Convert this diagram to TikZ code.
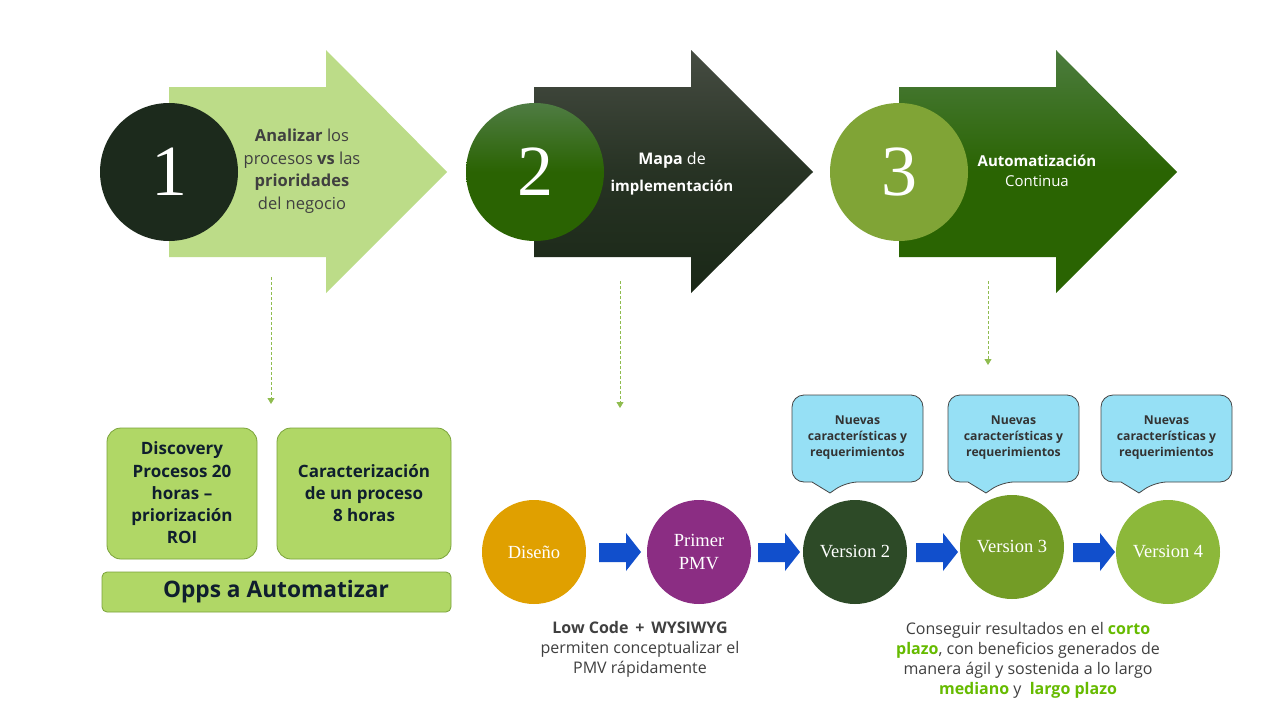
\documentclass[tikz,border=0pt]{standalone}
\usepackage{fontspec}
\setmainfont{Open Sans}
\newfontfamily\serifnum{Liberation Serif}
\usetikzlibrary{arrows.meta}
\definecolor{arrowA}{HTML}{BCDC88}
\definecolor{circA}{HTML}{1C2A1C}
\definecolor{arrowBtop}{HTML}{464C42}
\definecolor{arrowBbot}{HTML}{1A2817}
\definecolor{circBtop}{HTML}{4F7C43}
\definecolor{circBbot}{HTML}{2A6302}
\definecolor{arrowCtop}{HTML}{4C7C3E}
\definecolor{arrowCbot}{HTML}{2A6402}
\definecolor{circC}{HTML}{80A436}
\definecolor{dashgreen}{HTML}{8FBC4F}
\definecolor{boxfill}{HTML}{B0D766}
\definecolor{boxline}{HTML}{7AA33A}
\definecolor{navy}{HTML}{0F1E2E}
\definecolor{txtgrey}{HTML}{404040}
\definecolor{diseno}{HTML}{E0A000}
\definecolor{pmv}{HTML}{8B2D83}
\definecolor{vtwo}{HTML}{2D4A27}
\definecolor{vthree}{HTML}{739C26}
\definecolor{vfour}{HTML}{8CB83A}
\definecolor{blueArr}{HTML}{114FCC}
\definecolor{callfill}{HTML}{96E0F5}
\definecolor{callline}{HTML}{454545}
\definecolor{accent}{HTML}{66BB00}
\tikzset{
  bignum/.style={circle, minimum size=138pt, inner sep=0pt, text=white, font=\serifnum\fontsize{72}{72}\selectfont},
  dashlink/.style={draw=dashgreen, dash pattern=on 3pt off 2pt, line width=0.8pt, -{Triangle[length=6pt,width=7pt,fill=dashgreen]}},
  greenbox/.style={draw=boxline, fill=boxfill, rounded corners=14pt, line width=0.8pt},
  boxtext/.style={align=center, text=navy, font=\bfseries\fontsize{17}{22.3}\selectfont},
  stepcirc/.style={circle, minimum size=104pt, inner sep=0pt, align=center, text=white, font=\serifnum\fontsize{18.5}{23}\selectfont},
  bluearrow/.style={fill=blueArr},
  callout/.style={draw=callline, fill=callfill, line width=0.8pt, rounded corners=12pt},
  calltext/.style={align=center, text=txtgrey!80!black, font=\bfseries\fontsize{12.2}{16}\selectfont},
}
\begin{document}
\begin{tikzpicture}[x=1pt,y=-1pt]
\useasboundingbox[fill=white] (0,0) rectangle (1280,720);

% ---- big arrows ----
\fill[arrowA] (169,87) -- (326,87) -- (326,50) -- (447,172) -- (326,293) -- (326,257) -- (169,257) -- cycle;
\shade[top color=arrowBtop, bottom color=arrowBbot, middle color=arrowBbot!70!arrowBtop] (534,87) -- (691,87) -- (691,50) -- (813,172) -- (691,293) -- (691,257) -- (534,257) -- cycle;
\shade[top color=arrowCtop, bottom color=arrowCbot, middle color=arrowCbot] (899,87) -- (1056,87) -- (1056,50) -- (1177,172) -- (1056,293) -- (1056,257) -- (899,257) -- cycle;

\node[bignum, fill=circA] (c1) at (169,172) {1};
\node[bignum, top color=circBtop, bottom color=circBbot, middle color=circBbot] (c2) at (535,172) {2};
\node[bignum, fill=circC] (c3) at (899,172) {3};

\node[align=center, text=txtgrey, font=\fontsize{16.5}{22.5}\selectfont] (t1) at (302,171)
  {\textbf{Analizar} los\\procesos \textbf{vs} las\\\textbf{prioridades}\\del negocio};
\node[align=center, text=white, anchor=base] (t2a) at (672,164) {\fontsize{16}{18}\selectfont\textbf{Mapa} de};
\node[align=center, text=white, anchor=base] (t2b) at (672,191) {\fontsize{15}{16}\selectfont\textbf{implementación}};
\node[align=center, text=white, font=\fontsize{15}{20}\selectfont] (t3) at (1037,171)
  {\textbf{Automatización}\\Continua};

% ---- dashed connectors ----
\coordinate (d1s) at (271,277); \coordinate (d1e) at (271,404);
\coordinate (d2s) at (620,281); \coordinate (d2e) at (620,408);
\coordinate (d3s) at (988,281); \coordinate (d3e) at (988,365);
\draw[dashlink] (d1s) -- (d1e);
\draw[dashlink] (d2s) -- (d2e);
\draw[dashlink] (d3s) -- (d3e);

% ---- lower-left boxes ----
\draw[greenbox] (107,428) rectangle (257,559);
\node[boxtext] (bA) at (182,493) {Discovery\\Procesos 20\\horas --\\priorización\\ROI};
\draw[greenbox] (277,428) rectangle (451,559);
\node[boxtext] (bB) at (364,493) {Caracterización\\de un proceso\\8 horas};
\draw[greenbox, rounded corners=5pt] (102,572) rectangle (451,612);
\node[text=navy, font=\bfseries\fontsize{22.7}{24}\selectfont] (bC) at (276,592) {Opps a Automatizar};

% ---- bottom flow ----
\node[stepcirc, fill=diseno] (s1) at (534,552) {Diseño};
\node[stepcirc, fill=pmv] (s2) at (699,552) {Primer\\PMV};
\node[stepcirc, fill=vtwo] (s3) at (855,552) {Version 2};
\node[stepcirc, fill=vthree] (s4) at (1012,547) {Version 3};
\node[stepcirc, fill=vfour] (s5) at (1168,552) {Version 4};

\foreach \x in {599,758,916,1073} {
  \fill[bluearrow] (\x,543) -- (\x+27,543) -- (\x+27,533) -- (\x+42,552) -- (\x+27,571) -- (\x+27,562) -- (\x,562) -- cycle;
}

% ---- callouts ----
\foreach \l/\r/\t/\n in {792/923/830/k1, 948/1079/986/k2, 1101/1232/1139/k3} {
  \draw[callout] (\l,395) -- (\r,395) -- (\r,482) -- (\t+16,482) [sharp corners] -- (\t,493) -- (\t-18,482) [rounded corners=12pt] -- (\l,482) -- cycle;
  \node[calltext] (\n) at ({(\l+\r)/2},438) {Nuevas\\características y\\requerimientos};
}

% ---- captions ----
\node[align=center, text=txtgrey, font=\fontsize{16}{20}\selectfont] (cap1) at (640,649)
  {\textbf{Low Code \,+\, WYSIWYG}\\permiten conceptualizar el\\PMV rápidamente};
\node[align=center, text=txtgrey, font=\fontsize{16}{20}\selectfont] (cap2) at (1028,660)
  {Conseguir resultados en el \textcolor{accent}{\textbf{corto}}\\\textcolor{accent}{\textbf{plazo}}, con beneficios generados de\\manera ágil y sostenida a lo largo\hspace*{24pt}\\\textcolor{accent}{\textbf{mediano}} y \ \textcolor{accent}{\textbf{largo plazo}}};
\end{tikzpicture}
\end{document}
